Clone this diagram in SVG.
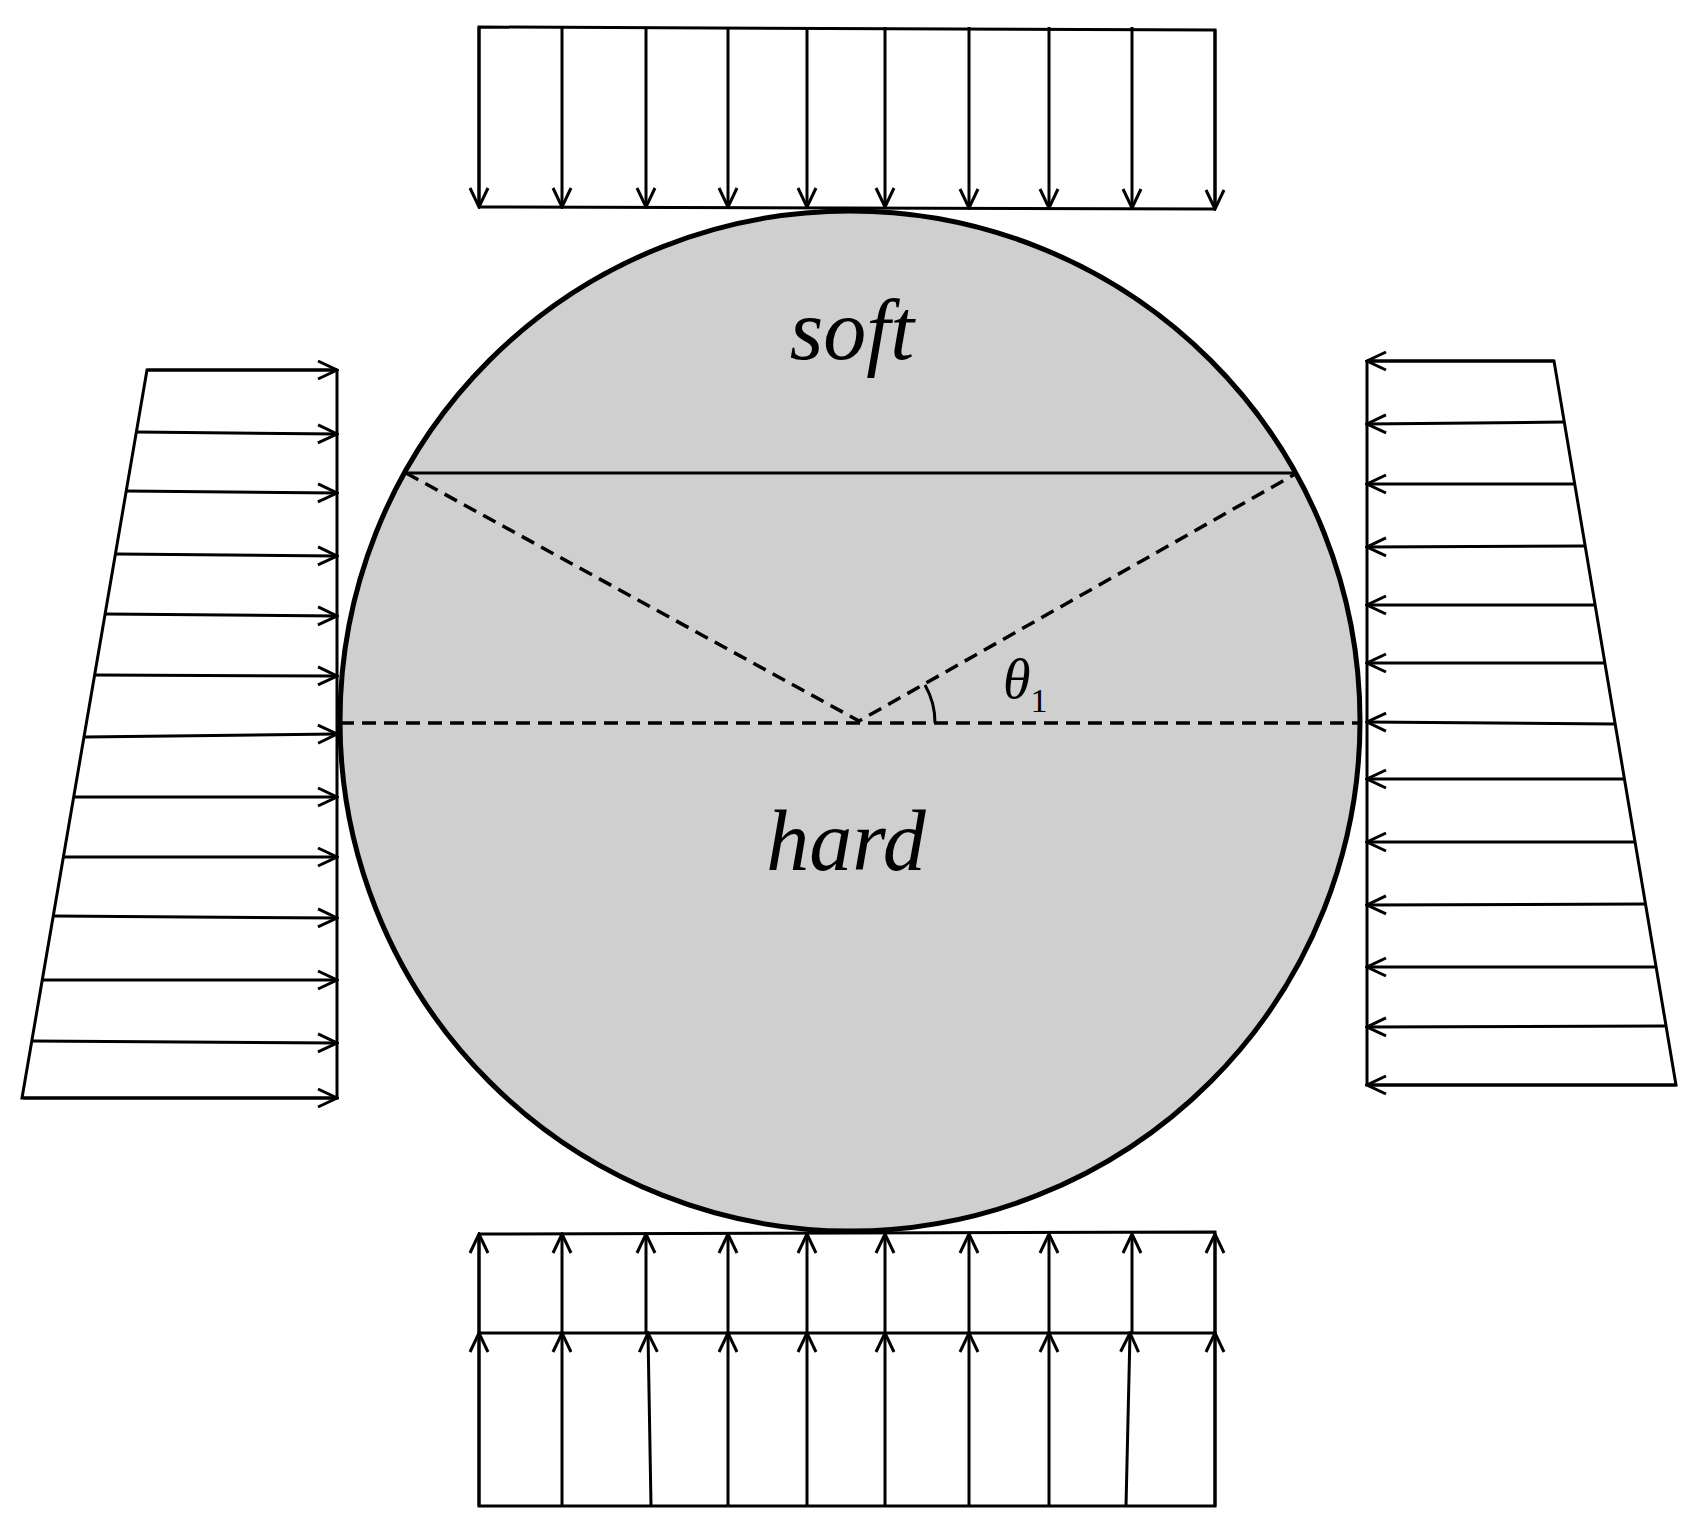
<svg xmlns="http://www.w3.org/2000/svg" width="1696" height="1535" viewBox="0 0 1696 1535">
<defs>
<marker id="a" viewBox="0 0 24 24" refX="22" refY="12" markerWidth="24" markerHeight="24" markerUnits="userSpaceOnUse" orient="auto"><path d="M3,3 L22,12 L3,21" fill="none" stroke="#000" stroke-width="3"/></marker>
</defs>
<style>
.l{stroke:#000;stroke-width:3;fill:none}
.ar line{stroke:#000;stroke-width:3;marker-end:url(#a)}
.d{stroke:#000;stroke-width:3.5;stroke-dasharray:14,8;fill:none}
.t{font-family:"Liberation Serif",serif;font-style:italic;fill:#000}
</style>
<rect width="1696" height="1535" fill="#fff"/>
<g id="disc">
<circle cx="850" cy="721" r="510" fill="#d0cfd0" stroke="#000" stroke-width="5"/>
<line class="l" x1="406" y1="473" x2="1297" y2="473"/>
<path class="d" d="M406,473 L859,721 L1297,473"/>
<line class="d" x1="340" y1="723" x2="1362" y2="723"/>
<path class="l" d="M935,723 A76,76 0 0 0 925,685" stroke-width="2"/>
<text class="t" x="852" y="359" font-size="86" text-anchor="middle">soft</text>
<text class="t" x="846" y="870" font-size="86" text-anchor="middle">hard</text>
<text class="t" x="1003" y="698" font-size="56">θ<tspan font-style="normal" font-size="34" dy="14">1</tspan></text>
</g>
<g id="connectors">
<g id="top">
<polyline class="l" points="479,207 479,27 1215,30 1215,207"/>
<line class="l" x1="479" y1="207" x2="1215" y2="209"/>
<g class="ar">
<line x1="479" y1="27" x2="479" y2="207"/><line x1="562" y1="27" x2="562" y2="207"/><line x1="646" y1="27" x2="646" y2="207"/><line x1="728" y1="27" x2="728" y2="207"/><line x1="807" y1="27" x2="807" y2="207"/><line x1="885" y1="27" x2="885" y2="207"/><line x1="969" y1="27" x2="969" y2="208"/><line x1="1049" y1="27" x2="1049" y2="208"/><line x1="1132" y1="27" x2="1132" y2="208"/><line x1="1215" y1="30" x2="1215" y2="209"/>
</g>
</g>
<g id="bottom">
<polyline class="l" points="479,1234 1215,1232 1215,1506 479,1506 479,1234"/>
<line class="l" x1="479" y1="1333" x2="1215" y2="1333"/>
<g class="ar">
<line x1="479" y1="1333" x2="479" y2="1234"/><line x1="562" y1="1333" x2="562" y2="1234"/><line x1="646" y1="1333" x2="646" y2="1234"/><line x1="728" y1="1333" x2="728" y2="1234"/><line x1="807" y1="1333" x2="807" y2="1234"/><line x1="885" y1="1333" x2="885" y2="1234"/><line x1="969" y1="1333" x2="969" y2="1234"/><line x1="1049" y1="1333" x2="1049" y2="1234"/><line x1="1132" y1="1333" x2="1132" y2="1234"/><line x1="1215" y1="1333" x2="1215" y2="1234"/>
<line x1="479" y1="1506" x2="479" y2="1333"/><line x1="562" y1="1506" x2="562" y2="1333"/><line x1="651" y1="1506" x2="648" y2="1333"/><line x1="728" y1="1506" x2="728" y2="1333"/><line x1="807" y1="1506" x2="807" y2="1333"/><line x1="885" y1="1506" x2="885" y2="1333"/><line x1="969" y1="1506" x2="969" y2="1333"/><line x1="1049" y1="1506" x2="1049" y2="1333"/><line x1="1126" y1="1506" x2="1130" y2="1333"/><line x1="1215" y1="1506" x2="1215" y2="1333"/>
</g>
</g>
<g id="left">
<polyline class="l" points="337,370 147,370 22,1098 337,1098 337,370"/>
<g class="ar">
<line x1="147" y1="370" x2="337" y2="370"/><line x1="137" y1="432" x2="337" y2="434"/><line x1="126" y1="491" x2="337" y2="493"/><line x1="116" y1="554" x2="337" y2="556"/><line x1="105" y1="614" x2="337" y2="616"/><line x1="95" y1="675" x2="337" y2="676"/><line x1="85" y1="737" x2="337" y2="734"/><line x1="74" y1="797" x2="337" y2="797"/><line x1="64" y1="857" x2="337" y2="857"/><line x1="54" y1="916" x2="337" y2="918"/><line x1="43" y1="980" x2="337" y2="980"/><line x1="33" y1="1041" x2="337" y2="1043"/><line x1="23" y1="1098" x2="337" y2="1098"/>
</g>
</g>
<g id="right">
<polyline class="l" points="1367,361 1554,361 1676,1085 1367,1085 1367,361"/>
<g class="ar">
<line x1="1554" y1="361" x2="1367" y2="361"/><line x1="1564" y1="422" x2="1367" y2="424"/><line x1="1574" y1="484" x2="1367" y2="484"/><line x1="1585" y1="546" x2="1367" y2="547"/><line x1="1595" y1="605" x2="1367" y2="605"/><line x1="1605" y1="663" x2="1367" y2="663"/><line x1="1615" y1="724" x2="1367" y2="722"/><line x1="1624" y1="779" x2="1367" y2="779"/><line x1="1635" y1="842" x2="1367" y2="842"/><line x1="1646" y1="904" x2="1367" y2="905"/><line x1="1656" y1="967" x2="1367" y2="967"/><line x1="1666" y1="1026" x2="1367" y2="1027"/><line x1="1676" y1="1085" x2="1367" y2="1085"/>
</g>
</g>
</g>
</svg>
